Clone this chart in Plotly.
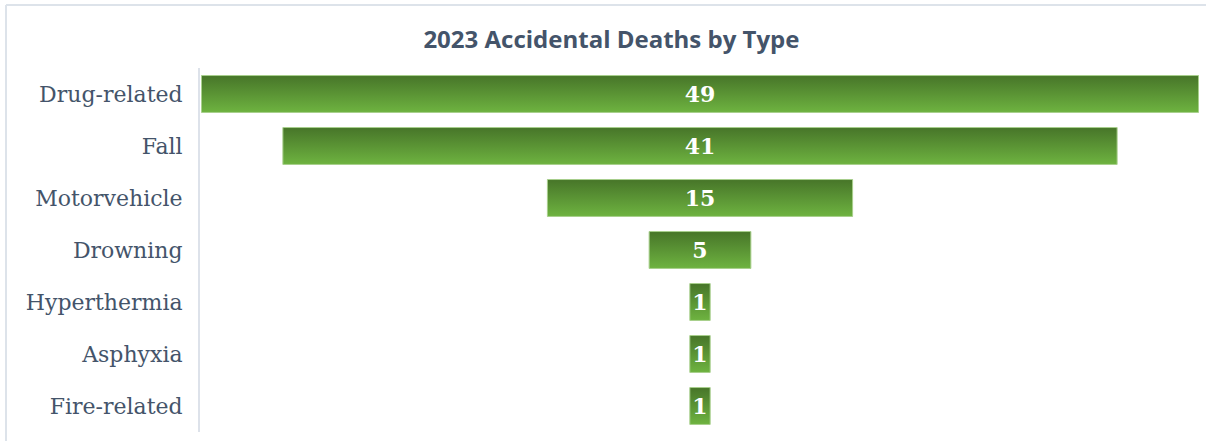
import plotly.graph_objects as go

# Accidental deaths in 2023, ordered largest to smallest
categories = ["Drug-related", "Fall", "Motorvehicle", "Drowning",
              "Hyperthermia", "Asphyxia", "Fire-related"]
deaths = [49, 41, 15, 5, 1, 1, 1]

title_text = "2023 Accidental Deaths by Type"

n = len(categories)
positions = [n - 1 - i for i in range(n)]   # first category on top
half_h = 0.355                              # half bar thickness (row units)
label_drop = 0.04                           # optical nudge for value labels

fig = go.Figure()

# Centered funnel bars, each filled with a vertical green gradient
for cat, val, pos in zip(categories, deaths, positions):
    x0, x1 = -val / 2, val / 2
    y0, y1 = pos - half_h, pos + half_h
    fig.add_trace(go.Scatter(
        x=[x0, x1, x1, x0, x0],
        y=[y0, y0, y1, y1, y0],
        mode="lines",
        fill="toself",
        fillgradient=dict(
            type="vertical",
            colorscale=[[0, "#6eb340"], [1, "#477529"]],
        ),
        line=dict(color="#a8cf8c", width=1),
        name=cat,
        hoverinfo="skip",
        showlegend=False,
    ))

# Value labels centered on each bar
fig.add_trace(go.Scatter(
    x=[0] * n,
    y=[p - label_drop for p in positions],
    mode="text",
    text=[str(v) for v in deaths],
    textposition="middle center",
    textfont=dict(family="DejaVu Serif", size=22, color="white", weight="bold"),
    hoverinfo="skip",
    showlegend=False,
))

max_half = max(deaths) / 2 * 1.003

fig.update_layout(
    width=1206,
    height=441,
    margin=dict(l=200, r=6, t=68, b=9),
    paper_bgcolor="white",
    plot_bgcolor="white",
    title=dict(
        text=f"<b>{title_text}</b>",
        x=0.507, xref="container", xanchor="center",
        y=1 - 40 / 441, yref="container", yanchor="middle",
        font=dict(family="Open Sans", size=24, color="#44546a"),
    ),
    xaxis=dict(
        range=[-max_half, max_half],
        showgrid=False, zeroline=False, showticklabels=False,
        showline=False, fixedrange=True,
    ),
    yaxis=dict(
        range=[-0.5, n - 0.5],
        tickvals=positions,
        ticktext=categories,
        showgrid=False, zeroline=False,
        showline=True, linecolor="#dde2ea", linewidth=2,
        ticks="",
        ticklabelstandoff=11,
        tickfont=dict(family="DejaVu Serif", size=22, color="#44546a"),
        fixedrange=True,
    ),
    shapes=[
        # light frame around the chart area (top and left edges)
        dict(type="line", xref="paper", yref="paper",
             x0=(6 - 200) / 1000, x1=(1210 - 200) / 1000,
             y0=(432 - 5) / 364, y1=(432 - 5) / 364,
             line=dict(color="#dde3ea", width=2)),
        dict(type="line", xref="paper", yref="paper",
             x0=(6 - 200) / 1000, x1=(6 - 200) / 1000,
             y0=(432 - 5) / 364, y1=(432 - 445) / 364,
             line=dict(color="#dde3ea", width=2)),
    ],
)

fig.write_html("out.html")
